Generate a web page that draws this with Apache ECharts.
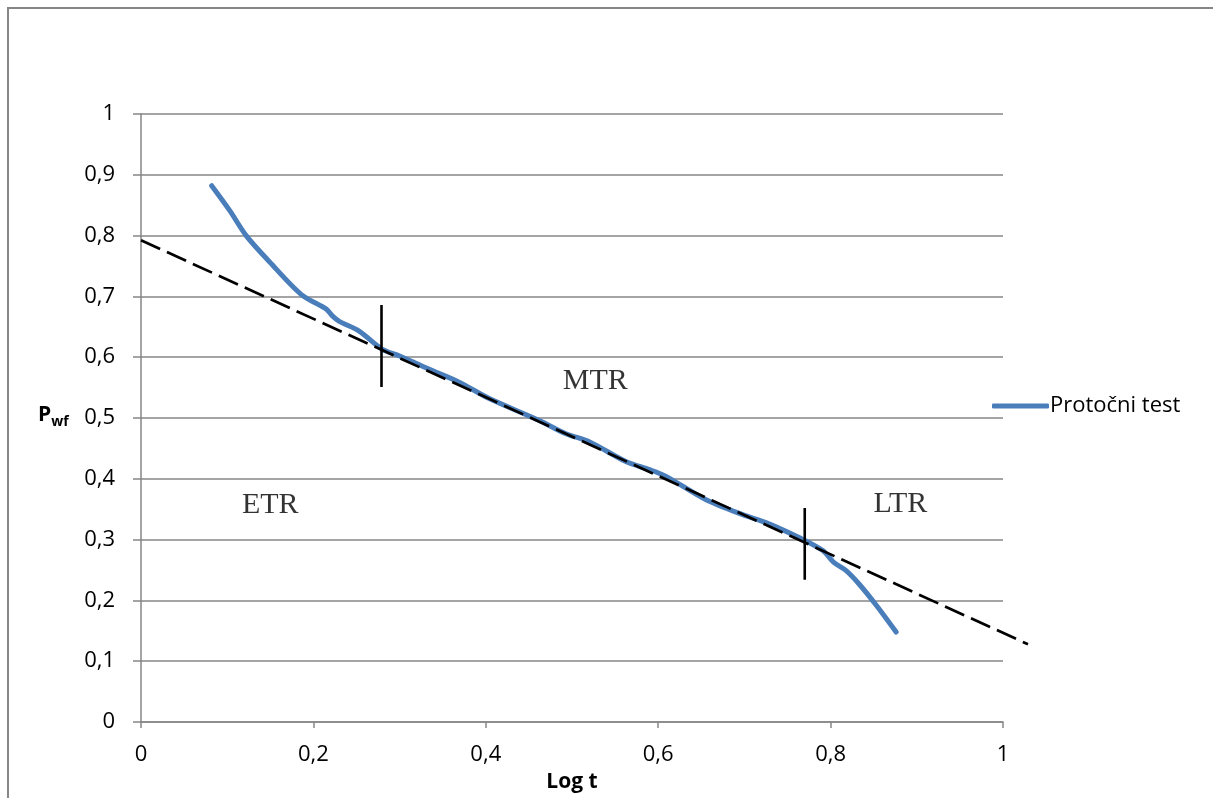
<!DOCTYPE html>
<html><head><meta charset="utf-8">
<script src="https://cdn.jsdelivr.net/npm/echarts@6/dist/echarts.min.js"></script>
<style>html,body{margin:0;padding:0;background:#fff}#c{width:1213px;height:798px}</style>
</head><body><div id="c"></div>
<script>
var xTicks = [0, 0.2, 0.4, 0.6, 0.8, 1];
var yTicks = [0, 0.1, 0.2, 0.3, 0.4, 0.5, 0.6, 0.7, 0.8, 0.9, 1];
var logT = [0.082,0.103,0.122,0.149,0.186,0.215,0.222,0.230,0.253,0.280,0.300,0.338,0.369,0.404,0.462,0.493,0.520,0.563,0.590,0.609,0.655,0.698,0.725,0.764,0.791,0.804,0.818,0.833,0.853,0.876];
var pwf  = [0.882,0.841,0.800,0.757,0.703,0.679,0.668,0.659,0.643,0.613,0.602,0.578,0.559,0.532,0.496,0.474,0.461,0.428,0.415,0.404,0.366,0.341,0.328,0.303,0.282,0.262,0.249,0.227,0.192,0.148];
var trendX = [0, 1.029];
var trendY = [0.794, 0.135];
var marker1X = [0.279, 0.279], marker1Y = [0.551, 0.686];
var marker2X = [0.770, 0.770], marker2Y = [0.234, 0.352];
var regionNames = ['ETR', 'MTR', 'LTR'];
var regionX = [0.150, 0.527, 0.881];
var regionY = [0.356, 0.561, 0.358];

function zip(a, b) { return a.map(function (v, i) { return [v, b[i]]; }); }
function fmt(v) { return String(Math.round(v * 10) / 10).replace('.', ','); }

var chart = echarts.init(document.getElementById('c'));
var axisGray = '#868686';
var tickFont = { fontFamily: 'Open Sans', fontSize: 22, color: '#000' };
var gLeft = 141, gTop = 114, gBottom = 71, gWidth = 862;

chart.setOption({
  animation: false,
  backgroundColor: '#fff',
  grid: [
    { left: gLeft, width: gWidth, top: gTop, bottom: gBottom, containLabel: false },
    { left: gLeft, width: gWidth * 1.1, top: gTop, bottom: gBottom, containLabel: false }
  ],
  xAxis: [{
    type: 'value', gridIndex: 0, min: xTicks[0], max: xTicks[xTicks.length - 1], interval: 0.2,
    axisLine: { lineStyle: { color: axisGray, width: 1.5 } },
    axisTick: { show: true, length: 6, lineStyle: { color: axisGray, width: 1.5 } },
    axisLabel: Object.assign({ margin: 22, formatter: fmt }, tickFont),
    splitLine: { show: false },
    name: 'Log t', nameLocation: 'middle', nameGap: 50,
    nameTextStyle: { fontFamily: 'Open Sans', fontWeight: 'bold', fontSize: 21, color: '#000' }
  }, {
    type: 'value', gridIndex: 1, min: 0, max: 1.1, show: false, splitLine: { show: false }
  }],
  yAxis: [{
    type: 'value', gridIndex: 0, min: yTicks[0], max: yTicks[yTicks.length - 1], interval: 0.1,
    axisLine: { show: true, lineStyle: { color: axisGray, width: 1.5 } },
    axisTick: { show: true, length: 8, lineStyle: { color: axisGray, width: 1.5 } },
    axisLabel: Object.assign({ margin: 26, formatter: fmt }, tickFont),
    splitLine: { show: true, lineStyle: { color: axisGray, width: 1.5 } }
  }, {
    type: 'value', gridIndex: 1, min: 0, max: 1, show: false, splitLine: { show: false }
  }],
  legend: {
    data: ['Protočni test'], left: 987, top: 390, icon: 'roundRect',
    itemWidth: 57, itemHeight: 5, itemGap: 4,
    textStyle: { fontFamily: 'Open Sans', fontSize: 22, color: '#000', padding: [0, 0, 0, -4] }
  },
  graphic: [
    { type: 'rect', shape: { x: 8, y: 8, width: 1220, height: 800 }, style: { fill: null, stroke: axisGray, lineWidth: 2 }, silent: true },
    { type: 'text', left: 38, top: 405, style: {
        text: '{p|P}{s|wf}', rich: {
          p: { fontFamily: 'Open Sans', fontWeight: 'bold', fontSize: 21, fill: '#000' },
          s: { fontFamily: 'Open Sans', fontWeight: 'bold', fontSize: 14, fill: '#000', padding: [14, 0, 0, 0] }
        } } }
  ],
  series: [
    { name: 'Trend', type: 'line', xAxisIndex: 1, yAxisIndex: 1, data: zip(trendX, trendY), symbol: 'none', clip: false, silent: true,
      lineStyle: { color: '#000', width: 2.7, type: [21, 7.5] }, z: 4 },
    { name: 'Protočni test', type: 'line', data: zip(logT, pwf), symbol: 'none', smooth: 0.3,
      lineStyle: { color: '#4A7EBB', width: 5, cap: 'round' }, itemStyle: { color: '#4A7EBB' }, z: 3 },
    { name: 'm1', type: 'line', data: zip(marker1X, marker1Y), symbol: 'none', silent: true,
      lineStyle: { color: '#000', width: 2.6 }, z: 5 },
    { name: 'm2', type: 'line', data: zip(marker2X, marker2Y), symbol: 'none', silent: true,
      lineStyle: { color: '#000', width: 2.6 }, z: 5 },
    { name: 'regions', type: 'scatter', symbolSize: 0, silent: true,
      data: regionNames.map(function (n, i) { return { value: [regionX[i], regionY[i]], name: n }; }),
      label: { show: true, position: 'inside', formatter: '{b}', fontFamily: 'Liberation Serif', fontSize: 30, color: '#000' } }
  ]
});
</script></body></html>
